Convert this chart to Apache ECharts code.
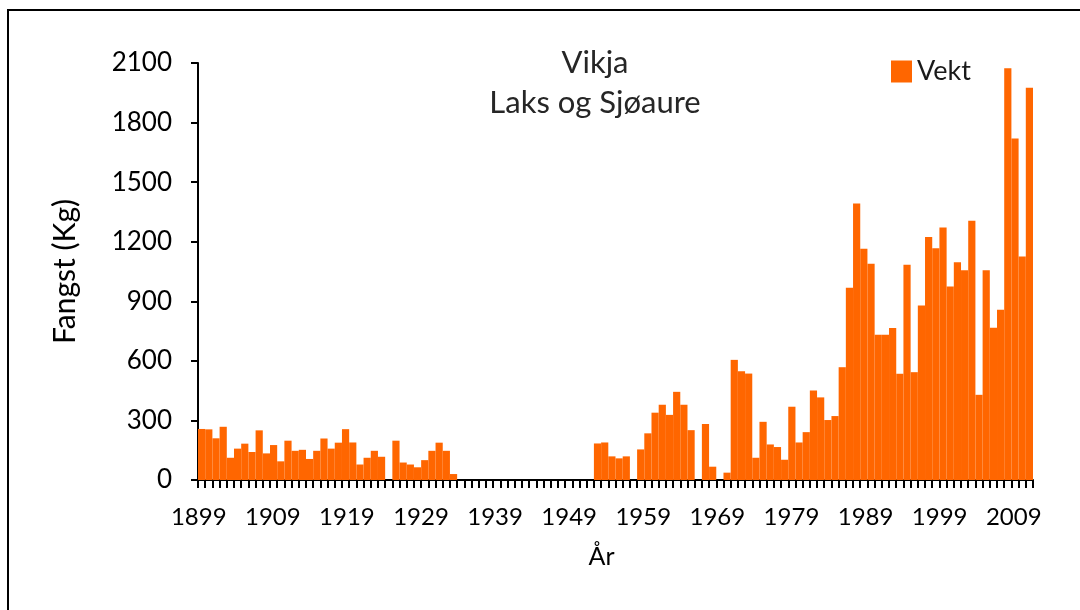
<!DOCTYPE html>
<html>
<head>
<meta charset="utf-8">
<script src="https://cdn.jsdelivr.net/npm/echarts@6/dist/echarts.min.js"></script>
<style>
  html, body { margin: 0; padding: 0; background: #fff; }
  #chart { width: 1080px; height: 610px; }
</style>
</head>
<body>
<div id="chart"></div>
<script>
// år (kategorier)
var years = [
  '1899','1900','1901','1902','1903','1904','1905','1906','1907','1908',
  '1909','1910','1911','1912','1913','1914','1915','1916','1917','1918',
  '1919','1920','1921','1922','1923','1924','1925','1926','1927','1928',
  '1929','1930','1931','1932','1933','1934','1935','1936','1937','1938',
  '1939','1940','1941','1942','1943','1944','1945','1946','1947','1948',
  '1949','1950','1951','1952','1953','1954','1955','1956','1957','1958',
  '1959','1960','1961','1962','1963','1964','1965','1966','1967','1968',
  '1969','1970','1971','1972','1973','1974','1975','1976','1977','1978',
  '1979','1980','1981','1982','1983','1984','1985','1986','1987','1988',
  '1989','1990','1991','1992','1993','1994','1995','1996','1997','1998',
  '1999','2000','2001','2002','2003','2004','2005','2006','2007','2008',
  '2009','2010','2011','2012','2013','2014'
];

// fangst i kg per år
var vekt = [
  257, 255, 210, 268, 112, 158, 183, 141, 250, 134,
  176,  94, 198, 147, 152, 106, 147, 209, 158, 188,
  256, 189,  78, 112, 147, 117,   0, 198,  88,  78,
   64, 100, 147, 188, 147,  30,   0,   0,   0,   0,
    0,   0,   0,   0,   0,   0,   0,   0,   0,   0,
    0,   0,   0,   0,   0, 184, 189, 119, 109, 119,
    0, 154, 235, 339, 379, 328, 444, 379, 251,   0,
  282,  67,   0,  37, 605, 548, 536, 112, 293, 179,
  166, 102, 369, 189, 241, 451, 416, 302, 322, 568,
  968,1392,1165,1089, 731, 731, 765, 535,1084, 543,
  879,1224,1167,1271, 975,1096,1056,1306, 429,1056,
  767, 857,2073,1720,1125,1975
];

// årstall som vises under aksen
var xLabels = [1899, 1909, 1919, 1929, 1939, 1949, 1959, 1969, 1979, 1989, 1999, 2009];

var yTicks = { min: 0, max: 2100, step: 300 };

var font = 'Lato, "Open Sans", sans-serif';

var chart = echarts.init(document.getElementById('chart'), null, { renderer: 'canvas' });

chart.setOption({
  backgroundColor: '#fff',
  animation: false,
  title: {
    text: 'Vikja\nLaks og Sjøaure',
    left: 590,
    top: 38,
    textAlign: 'center',
    textStyle: {
      color: '#262626',
      fontFamily: font,
      fontSize: 31,
      fontWeight: 'normal',
      lineHeight: 40
    }
  },
  legend: {
    data: ['Vekt'],
    left: 886,
    top: 53,
    itemWidth: 21,
    itemHeight: 22,
    itemGap: 4,
    icon: 'rect',
    textStyle: {
      color: '#1a1a1a',
      fontFamily: font,
      fontSize: 27
    }
  },
  graphic: [{
    type: 'rect',
    shape: { x: 8, y: 10, width: 1090, height: 620 },
    style: { fill: 'none', stroke: '#000', lineWidth: 2 },
    silent: true
  }],
  grid: {
    left: 198,
    right: 47,
    top: 63,
    bottom: 130
  },
  xAxis: [{
    type: 'category',
    data: years,
    name: 'År',
    nameLocation: 'middle',
    nameGap: 64,
    nameTextStyle: {
      color: '#000',
      fontFamily: font,
      fontSize: 25,
      padding: [0, 28, 0, 0]
    },
    axisLine: { lineStyle: { color: '#000', width: 2 } },
    axisTick: {
      show: true,
      interval: 0,
      length: 8,
      lineStyle: { color: '#000', width: 2 }
    },
    axisLabel: { show: false },
    splitLine: { show: false }
  }, {
    // etikett-akse: Excel plasserer årstallene litt bredere enn kategoriene
    type: 'value',
    position: 'bottom',
    min: 1898.9,
    max: 2011.6,
    axisLine: { show: false },
    axisTick: { show: false },
    splitLine: { show: false },
    axisLabel: {
      customValues: xLabels,
      margin: 25,
      color: '#000',
      fontFamily: font,
      fontSize: 24,
      formatter: function (v) { return String(v); }
    }
  }],
  yAxis: {
    type: 'value',
    min: yTicks.min,
    max: yTicks.max,
    interval: yTicks.step,
    name: 'Fangst (Kg)',
    nameLocation: 'middle',
    nameGap: 118,
    nameRotate: 90,
    nameTextStyle: { color: '#000', fontFamily: font, fontSize: 30 },
    axisLine: { show: true, lineStyle: { color: '#000', width: 2 } },
    axisTick: { show: true, length: 7, lineStyle: { color: '#000', width: 2 } },
    axisLabel: {
      margin: 26,
      color: '#000',
      fontFamily: font,
      fontSize: 26,
      formatter: function (v) { return String(v); }
    },
    splitLine: { show: false }
  },
  series: [{
    name: 'Vekt',
    type: 'bar',
    xAxisIndex: 0,
    data: vekt,
    barCategoryGap: '0%',
    itemStyle: { color: '#FF6600' }
  }]
});
</script>
</body>
</html>
